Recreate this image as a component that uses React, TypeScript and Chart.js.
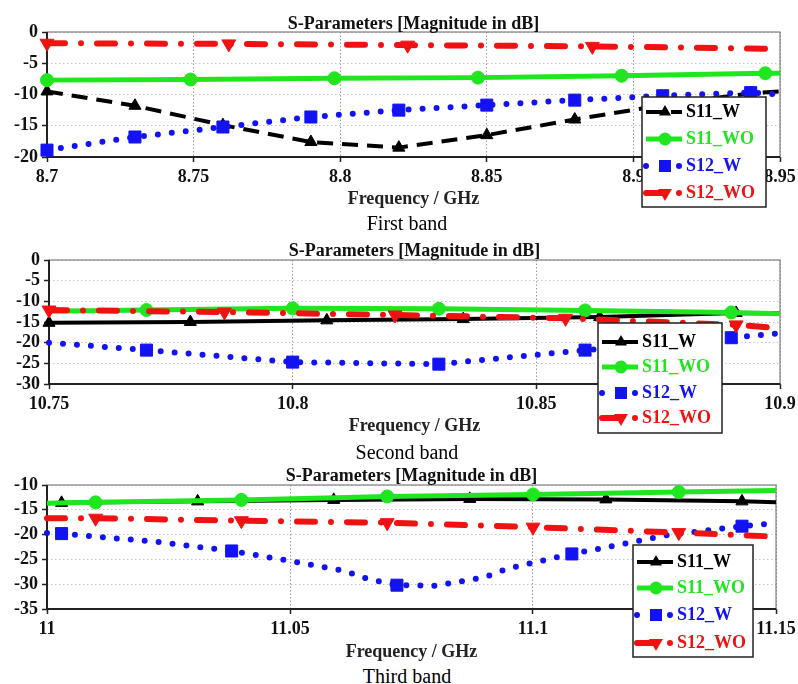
import { useEffect, useRef } from 'react';
import { Chart, registerables } from 'chart.js';

Chart.register(...registerables);

const SERIF = '"Liberation Serif", "Times New Roman", Times, serif';
const INK = '#111111';

const seriesNames = ['S11_W', 'S11_WO', 'S12_W', 'S12_WO'];
const seriesColors = ['#000000', '#1fe61f', '#1212f2', '#f01212'];
const plotTitle = 'S-Parameters [Magnitude in dB]';
const axisTitle = 'Frequency / GHz';
const captions = ['First band', 'Second band', 'Third band'];

// ---- First band (8.70 – 8.95 GHz) ----
const band1FreqTicks = [8.7, 8.75, 8.8, 8.85, 8.9, 8.95];
const band1DbTicks = [0, -5, -10, -15, -20];
const band1S11WFreq = [8.7, 8.73, 8.76, 8.79, 8.82, 8.85, 8.88, 8.91, 8.94, 8.95];
const band1S11WDb = [-9.5, -11.8, -14.9, -17.6, -18.5, -16.5, -14.0, -11.7, -9.8, -9.5];
const band1S11WMarks = [1, 1, 1, 1, 1, 1, 1, 1, 1, 0];
const band1S11WOFreq = [8.7, 8.749, 8.798, 8.847, 8.896, 8.945, 8.95];
const band1S11WODb = [-7.7, -7.6, -7.4, -7.3, -7.0, -6.6, -6.6];
const band1S11WOMarks = [1, 1, 1, 1, 1, 1, 0];
const band1S12WFreq = [8.7, 8.73, 8.76, 8.79, 8.82, 8.85, 8.88, 8.91, 8.94, 8.95];
const band1S12WDb = [-18.9, -16.8, -15.2, -13.6, -12.5, -11.7, -10.9, -10.2, -9.7, -10.0];
const band1S12WMarks = [1, 1, 1, 1, 1, 1, 1, 1, 1, 0];
const band1S12WOFreq = [8.7, 8.762, 8.823, 8.886, 8.95];
const band1S12WODb = [-1.8, -1.9, -2.1, -2.3, -2.7];
const band1S12WOMarks = [1, 1, 1, 1, 0];

// ---- Second band (10.75 – 10.90 GHz) ----
const band2FreqTicks = [10.75, 10.8, 10.85, 10.9];
const band2DbTicks = [0, -5, -10, -15, -20, -25, -30];
const band2S11WFreq = [10.75, 10.779, 10.807, 10.835, 10.863, 10.891, 10.9];
const band2S11WDb = [-15.2, -15.0, -14.6, -14.3, -13.8, -12.8, -12.9];
const band2S11WMarks = [1, 1, 1, 1, 1, 1, 0];
const band2S11WOFreq = [10.75, 10.77, 10.8, 10.83, 10.86, 10.89, 10.9];
const band2S11WODb = [-12.4, -12.1, -11.7, -11.8, -12.2, -12.7, -13.0];
const band2S11WOMarks = [0, 1, 1, 1, 1, 1, 0];
const band2S12WFreq = [10.75, 10.77, 10.8, 10.83, 10.86, 10.89, 10.9];
const band2S12WDb = [-20.0, -21.8, -24.7, -25.2, -21.8, -18.8, -17.7];
const band2S12WMarks = [0, 1, 1, 1, 1, 1, 0];
const band2S12WOFreq = [10.75, 10.786, 10.821, 10.856, 10.891, 10.9];
const band2S12WODb = [-12.1, -12.6, -13.3, -14.1, -15.7, -16.5];
const band2S12WOMarks = [1, 1, 1, 1, 1, 0];

// ---- Third band (11.00 – 11.15 GHz) ----
const band3FreqTicks = [11, 11.05, 11.1, 11.15];
const band3DbTicks = [-10, -15, -20, -25, -30, -35];
const band3S11WFreq = [11.0, 11.003, 11.031, 11.059, 11.087, 11.115, 11.143, 11.15];
const band3S11WDb = [-13.7, -13.6, -13.3, -13.0, -12.8, -12.9, -13.3, -13.5];
const band3S11WMarks = [0, 1, 1, 1, 1, 1, 1, 0];
const band3S11WOFreq = [11.0, 11.01, 11.04, 11.07, 11.1, 11.13, 11.15];
const band3S11WODb = [-13.7, -13.5, -13.0, -12.3, -11.9, -11.4, -11.1];
const band3S11WOMarks = [0, 1, 1, 1, 1, 1, 0];
const band3S12WFreq = [11.0, 11.003, 11.023, 11.038, 11.05, 11.061, 11.066, 11.072, 11.08, 11.09, 11.095, 11.108, 11.115, 11.127, 11.143, 11.15];
const band3S12WDb = [-19.7, -19.8, -21.5, -23.3, -25.3, -27.3, -28.9, -30.2, -30.3, -28.6, -26.8, -23.9, -22.6, -20.2, -18.3, -17.7];
const band3S12WMarks = [0, 1, 0, 1, 0, 0, 0, 1, 0, 0, 0, 1, 0, 0, 1, 0];
const band3S12WOFreq = [11.0, 11.01, 11.04, 11.07, 11.1, 11.13, 11.15];
const band3S12WODb = [-16.7, -16.7, -17.2, -17.6, -18.5, -19.6, -20.4];
const band3S12WOMarks = [0, 1, 1, 1, 1, 1, 0];

type Series = { freq: number[]; db: number[]; marks: number[] };
type Geom = {
  top: number; height: number; left: number; right: number;
  plotTop: number; plotBottom: number; titleBase: number; axisTitleMid: number;
  legend: { x: number; y: number; w: number; h: number; rows: number[] };
};
type Band = { freqTicks: number[]; dbTicks: number[]; dashedS11W: boolean; series: Series[]; geom: Geom };

const bands: Band[] = [
  {
    freqTicks: band1FreqTicks, dbTicks: band1DbTicks, dashedS11W: true,
    series: [
      { freq: band1S11WFreq, db: band1S11WDb, marks: band1S11WMarks },
      { freq: band1S11WOFreq, db: band1S11WODb, marks: band1S11WOMarks },
      { freq: band1S12WFreq, db: band1S12WDb, marks: band1S12WMarks },
      { freq: band1S12WOFreq, db: band1S12WODb, marks: band1S12WOMarks },
    ],
    geom: {
      top: 0, height: 212, left: 47, right: 780, plotTop: 32, plotBottom: 157,
      titleBase: 29, axisTitleMid: 199.5,
      legend: { x: 642, y: 97, w: 124, h: 110, rows: [15, 42, 69, 96] },
    },
  },
  {
    freqTicks: band2FreqTicks, dbTicks: band2DbTicks, dashedS11W: false,
    series: [
      { freq: band2S11WFreq, db: band2S11WDb, marks: band2S11WMarks },
      { freq: band2S11WOFreq, db: band2S11WODb, marks: band2S11WOMarks },
      { freq: band2S12WFreq, db: band2S12WDb, marks: band2S12WMarks },
      { freq: band2S12WOFreq, db: band2S12WODb, marks: band2S12WOMarks },
    ],
    geom: {
      top: 230, height: 210, left: 49, right: 780, plotTop: 30, plotBottom: 154,
      titleBase: 26, axisTitleMid: 196.5,
      legend: { x: 598, y: 93, w: 124, h: 110, rows: [19, 44, 70, 95] },
    },
  },
  {
    freqTicks: band3FreqTicks, dbTicks: band3DbTicks, dashedS11W: false,
    series: [
      { freq: band3S11WFreq, db: band3S11WDb, marks: band3S11WMarks },
      { freq: band3S11WOFreq, db: band3S11WODb, marks: band3S11WOMarks },
      { freq: band3S12WFreq, db: band3S12WDb, marks: band3S12WMarks },
      { freq: band3S12WOFreq, db: band3S12WODb, marks: band3S12WOMarks },
    ],
    geom: {
      top: 460, height: 205, left: 47, right: 776, plotTop: 25, plotBottom: 149,
      titleBase: 21, axisTitleMid: 192,
      legend: { x: 633, y: 85, w: 120, h: 112, rows: [17, 43, 70, 98] },
    },
  },
];

const captionTops = [213, 442, 666];

type Look = {
  width: number; dash: number[]; cap: CanvasLineCap; marker: string; radius: number;
  rotation: number; legendDash: number[]; order: number;
};

function seriesLook(i: number, dashedS11W: boolean): Look {
  switch (i) {
    case 0:
      return { width: 4, dash: dashedS11W ? [16, 9] : [], cap: 'butt', marker: 'triangle', radius: 7, rotation: 0, legendDash: dashedS11W ? [16, 9] : [], order: 4 };
    case 1:
      return { width: 5, dash: [], cap: 'butt', marker: 'circle', radius: 6.5, rotation: 0, legendDash: [], order: 3 };
    case 2:
      return { width: 6, dash: [0, 14], cap: 'round', marker: 'rect', radius: 8.5, rotation: 0, legendDash: [0, 16.5], order: 2 };
    default:
      return { width: 6, dash: [18, 16, 0, 16], cap: 'round', marker: 'triangle', radius: 8, rotation: 180, legendDash: [16, 17, 0, 100], order: 1 };
  }
}

function drawMarker(ctx: CanvasRenderingContext2D, style: string, x: number, y: number, r: number, rotation: number, color: string) {
  ctx.save();
  ctx.fillStyle = color;
  ctx.beginPath();
  if (style === 'circle') {
    ctx.arc(x, y, r, 0, Math.PI * 2);
  } else if (style === 'rect') {
    const s = r * Math.SQRT1_2;
    ctx.rect(x - s, y - s, 2 * s, 2 * s);
  } else {
    let rad = (rotation * Math.PI) / 180;
    ctx.moveTo(x + Math.sin(rad) * r, y - Math.cos(rad) * r);
    rad += (2 * Math.PI) / 3;
    ctx.lineTo(x + Math.sin(rad) * r, y - Math.cos(rad) * r);
    rad += (2 * Math.PI) / 3;
    ctx.lineTo(x + Math.sin(rad) * r, y - Math.cos(rad) * r);
    ctx.closePath();
  }
  ctx.fill();
  ctx.restore();
}

function makePlugins(band: Band) {
  const g = band.geom;
  const frame = {
    id: 'plotFrame',
    beforeDatasetsDraw(chart: any) {
      const { ctx, chartArea: a } = chart;
      ctx.save();
      ctx.strokeStyle = '#808080';
      ctx.lineWidth = 1.2;
      ctx.strokeRect(a.left, a.top, a.right - a.left, a.bottom - a.top);
      ctx.strokeStyle = '#222';
      ctx.lineWidth = 2;
      ctx.beginPath();
      ctx.moveTo(a.left, a.top);
      ctx.lineTo(a.left, a.bottom);
      ctx.lineTo(a.right, a.bottom);
      ctx.stroke();
      ctx.restore();
    },
    afterDraw(chart: any) {
      const { ctx, chartArea: a } = chart;
      ctx.save();
      ctx.fillStyle = INK;
      ctx.font = `bold 18px ${SERIF}`;
      ctx.textAlign = 'center';
      ctx.textBaseline = 'alphabetic';
      ctx.fillText(plotTitle, (a.left + a.right) / 2, g.titleBase);

      // legend box drawn over the plot, as in the spreadsheet original
      const L = g.legend;
      ctx.fillStyle = '#ffffff';
      ctx.fillRect(L.x, L.y, L.w, L.h);
      ctx.strokeStyle = '#222';
      ctx.lineWidth = 1.5;
      ctx.strokeRect(L.x, L.y, L.w, L.h);
      chart.data.datasets.forEach((ds: any, i: number) => {
        const look = seriesLook(i, band.dashedS11W);
        const ry = L.y + L.rows[i];
        ctx.save();
        ctx.strokeStyle = ds.borderColor;
        ctx.lineWidth = look.width;
        ctx.lineCap = look.cap;
        ctx.setLineDash(look.legendDash);
        ctx.beginPath();
        ctx.moveTo(L.x + 4, ry);
        ctx.lineTo(L.x + 40, ry);
        ctx.stroke();
        ctx.restore();
        drawMarker(ctx, look.marker, L.x + 23, ry, look.radius, look.rotation, ds.borderColor);
        ctx.fillStyle = ds.borderColor;
        ctx.font = `bold 18px ${SERIF}`;
        ctx.textAlign = 'left';
        ctx.textBaseline = 'middle';
        ctx.fillText(ds.label, L.x + 44, ry);
      });
      ctx.restore();
    },
  };
  return [frame];
}

function BandChart({ band }: { band: Band }) {
  const ref = useRef<HTMLCanvasElement | null>(null);
  useEffect(() => {
    const canvas = ref.current;
    if (!canvas) return;
    const g = band.geom;
    const W = 798;
    const xTitleLine = 18 * 1.2;
    const padBottom = g.height - (g.axisTitleMid + xTitleLine / 2);
    const datasets = band.series.map((s, i) => {
      const look = seriesLook(i, band.dashedS11W);
      const color = seriesColors[i];
      return {
        label: seriesNames[i],
        data: s.freq.map((f, k) => ({ x: f, y: s.db[k] })),
        borderColor: color,
        backgroundColor: color,
        borderWidth: look.width,
        borderDash: look.dash,
        borderCapStyle: look.cap,
        borderJoinStyle: 'round',
        tension: 0,
        pointStyle: look.marker,
        pointRotation: look.rotation,
        pointRadius: s.marks.map((m) => (m ? look.radius : 0)),
        pointBackgroundColor: color,
        pointBorderColor: color,
        pointBorderWidth: 1,
        order: look.order,
        clip: false,
      };
    });
    const tickFont = { family: SERIF, size: 18, weight: 'bold' as const };
    const chart = new Chart(canvas, {
      type: 'line',
      data: { datasets } as any,
      plugins: makePlugins(band) as any,
      options: {
        responsive: false,
        animation: false,
        devicePixelRatio: 1,
        events: [],
        layout: { padding: { left: 0, top: g.plotTop, right: W - g.right, bottom: padBottom } },
        plugins: { legend: { display: false }, tooltip: { enabled: false }, title: { display: false } },
        scales: {
          x: {
            type: 'linear',
            min: band.freqTicks[0],
            max: band.freqTicks[band.freqTicks.length - 1],
            afterBuildTicks: (scale: any) => {
              scale.ticks = band.freqTicks.map((v) => ({ value: v }));
            },
            afterFit: (scale: any) => {
              scale.height = g.height - padBottom - g.plotBottom;
              scale.paddingLeft = 0;
              scale.paddingRight = 0;
              scale.paddingTop = 0;
              scale.paddingBottom = 0;
            },
            ticks: {
              autoSkip: false,
              maxRotation: 0,
              padding: 4.5,
              color: INK,
              font: tickFont,
              callback: (v: any) => String(v),
            },
            grid: { color: '#9a9a9a', lineWidth: 1, drawTicks: true, tickLength: 5, tickColor: '#222', tickWidth: 1.5 },
            border: { display: false, dash: [1.5, 2] },
            title: { display: true, text: axisTitle, color: '#222', font: tickFont, padding: 0 },
          },
          y: {
            type: 'linear',
            min: band.dbTicks[band.dbTicks.length - 1],
            max: band.dbTicks[0],
            afterBuildTicks: (scale: any) => {
              scale.ticks = band.dbTicks.map((v) => ({ value: v }));
            },
            afterFit: (scale: any) => {
              scale.width = g.left;
              scale.paddingLeft = 0;
              scale.paddingRight = 0;
              scale.paddingTop = 0;
              scale.paddingBottom = 0;
            },
            ticks: {
              autoSkip: false,
              padding: 4,
              color: INK,
              font: tickFont,
              callback: (v: any) => String(v),
            },
            grid: { color: '#c4c4c4', lineWidth: 1, drawTicks: true, tickLength: 5, tickColor: '#222', tickWidth: 1.5 },
            border: { display: false, dash: [1.5, 2.5] },
          },
        },
      } as any,
    });
    return () => chart.destroy();
  }, [band]);
  return (
    <canvas
      ref={ref}
      width={798}
      height={band.geom.height}
      style={{ position: 'absolute', left: 0, top: band.geom.top, width: 798, height: band.geom.height }}
    />
  );
}

export default function App() {
  return (
    <div style={{ position: 'absolute', left: 0, top: 0, width: 798, height: 684, background: '#ffffff', overflow: 'hidden' }}>
      {bands.map((b, i) => (
        <BandChart key={i} band={b} />
      ))}
      {captions.map((c, i) => (
        <div
          key={c}
          style={{
            position: 'absolute', left: 307, width: 200, top: captionTops[i], textAlign: 'center',
            fontFamily: SERIF, fontSize: 20, lineHeight: '20px', color: '#000',
          }}
        >
          {c}
        </div>
      ))}
    </div>
  );
}
